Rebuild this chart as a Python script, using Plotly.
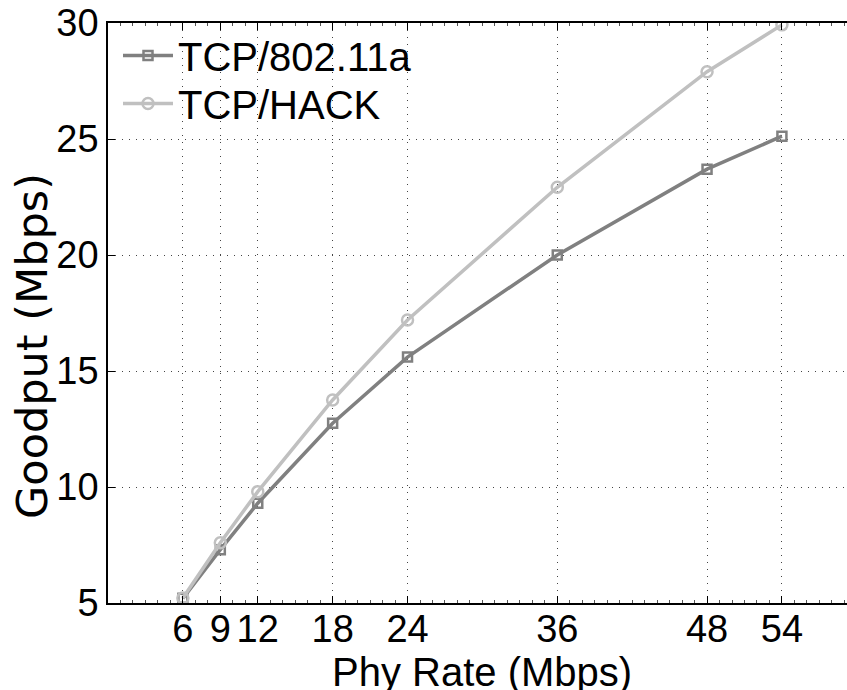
import plotly.graph_objects as go

phy_rate = [6, 9, 12, 18, 24, 36, 48, 54]
tcp_80211a = [5.2, 7.3, 9.3, 12.75, 15.6, 20.0, 23.7, 25.12]
tcp_hack = [5.22, 7.6, 9.8, 13.75, 17.2, 22.92, 27.9, 29.92]
x_ticks = [6, 9, 12, 18, 24, 36, 48, 54]
y_ticks = [5, 10, 15, 20, 25, 30]

fig = go.Figure()
fig.add_trace(go.Scatter(
    x=phy_rate, y=tcp_80211a, name="TCP/802.11a", mode="lines+markers",
    line=dict(color="#808080", width=3.5), legend="legend",
    marker=dict(symbol="square-open", size=9, color="#808080", line=dict(width=2.5, color="#808080")),
))
fig.add_trace(go.Scatter(
    x=phy_rate, y=tcp_hack, name="TCP/HACK", mode="lines+markers",
    line=dict(color="#c0c0c0", width=3.5), legend="legend2",
    marker=dict(symbol="circle-open", size=11, color="#c0c0c0", line=dict(width=2.5, color="#c0c0c0")),
))

W, H = 900, 690
ml, mr, mt, mb = 108, 0, 23, 87
pw = W - ml - mr
ph = H - mt - mb
xmax = pw / 12.48

leg_common = dict(
    x=(118 - ml) / pw, xanchor="left", yanchor="top",
    bgcolor="rgba(0,0,0,0)", borderwidth=0,
    font=dict(size=40, family="Liberation Sans, Arial, sans-serif"),
    itemwidth=50,
)

fig.update_layout(
    template="none",
    width=W, height=H,
    margin=dict(l=ml, r=mr, t=mt, b=mb, pad=0, autoexpand=False),
    paper_bgcolor="white", plot_bgcolor="white",
    font=dict(family="Liberation Sans, Arial, sans-serif", color="black"),
    showlegend=True,
    legend=dict(y=1.0, **leg_common),
    legend2=dict(y=1.0 - 48 / ph, **leg_common),
)
fig.update_xaxes(
    automargin=False,
    range=[0, xmax], tickmode="array", tickvals=x_ticks, ticktext=[str(v) for v in x_ticks],
    tickfont=dict(size=38), ticks="inside", ticklen=7, tickcolor="black", tickwidth=1,
    ticklabelstandoff=-8,
    showline=True, linecolor="black", linewidth=1.5, mirror="ticks",
    showgrid=True, gridcolor="#444", gridwidth=1, griddash="1px,6px",
    zeroline=False,
    minor=dict(dtick=1, tick0=0, ticks="inside", ticklen=3, tickcolor="#555", showgrid=False),
)
fig.update_yaxes(
    automargin=False,
    range=[5, 30], tickmode="array", tickvals=y_ticks, ticktext=[str(v) for v in y_ticks],
    tickfont=dict(size=38), ticks="inside", ticklen=7, tickcolor="black", tickwidth=1,
    showline=True, linecolor="black", linewidth=1.5, mirror=False,
    showgrid=True, gridcolor="#444", gridwidth=1, griddash="1px,6px",
    zeroline=False,
)

fig.add_annotation(
    text="Phy Rate (Mbps)", xref="paper", yref="paper",
    x=(482 - ml) / pw, y=-(672 - (H - mb)) / ph,
    xanchor="center", yanchor="middle", showarrow=False,
    font=dict(size=40, family="Liberation Sans, Arial, sans-serif"),
)
fig.add_annotation(
    text="Goodput (Mbps)", xref="paper", yref="paper",
    x=-(ml - 32) / pw, y=1 - (346 - mt) / ph,
    xanchor="center", yanchor="middle", showarrow=False, textangle=-90,
    font=dict(size=43, family="DejaVu Sans, sans-serif"),
)

fig.write_html(
    "out.html",
    config={"displayModeBar": False},
    post_script="document.documentElement.style.overflow='hidden';document.body.style.margin='0';document.body.style.overflow='hidden';",
)
